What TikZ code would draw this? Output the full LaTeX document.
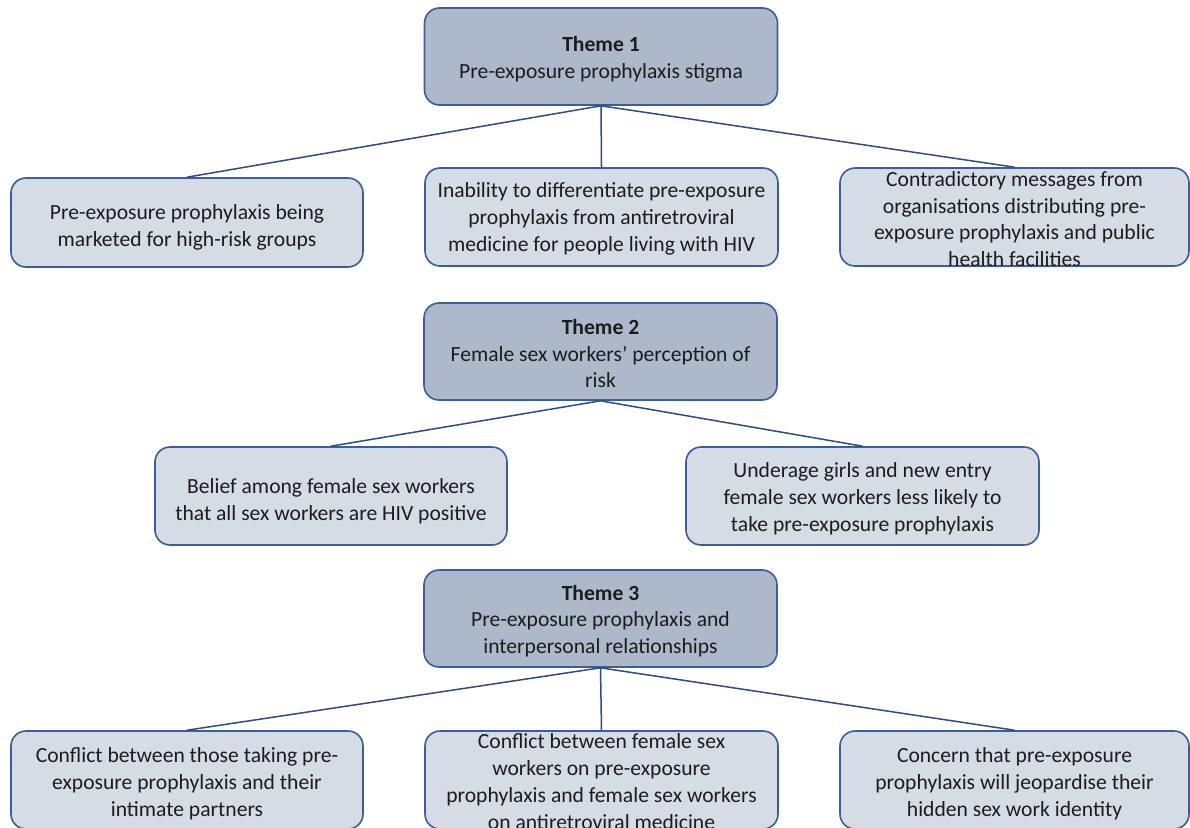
\documentclass[tikz,border=0pt]{standalone}
\usepackage{fontspec}
\setmainfont{Carlito}
\definecolor{themefill}{HTML}{ADB9CA}
\definecolor{subfill}{HTML}{D6DCE5}
\definecolor{boxline}{HTML}{3A5F98}
\definecolor{linkline}{HTML}{2F4B80}
\definecolor{txt}{HTML}{1C1C1C}
\tikzset{
  boxtext/.style={align=center, text=txt, inner sep=0pt,
    font=\fontsize{21.6}{26.8}\selectfont},
  box/.style={draw=boxline, line width=1.6pt, rounded corners=15pt, inner sep=0pt},
  themebox/.style={box, fill=themefill, minimum width=353pt, minimum height=97pt},
  subbox/.style={box, fill=subfill, minimum height=98pt},
  link/.style={draw=linkline, line width=1.5pt}
}
\begin{document}
\begin{tikzpicture}[x=1pt,y=-1pt]
\useasboundingbox (0,0) rectangle (1190,827);
\begin{scope}
\clip (0,0) rectangle (1190,827);
% Theme 1 and its sub-themes
\node[themebox, label={[boxtext,yshift=-3pt]center:{\textbf{Theme 1}\\Pre-exposure prophylaxis stigma}}] (t1) at (601,56.5) {};
\node[subbox, minimum width=352pt, minimum height=89pt,
  label={[boxtext,yshift=-4.5pt]center:{Pre-exposure prophylaxis being\\marketed for high-risk groups}}] (a1) at (187,222.5) {};
\node[subbox, minimum width=353pt,
  label={[boxtext,yshift=-2pt]center:{Inability to differentiate pre-exposure\\prophylaxis from antiretroviral\\medicine for people living with HIV}}] (a2) at (601.5,217) {};
\node[subbox, minimum width=349pt,
  label={[boxtext,yshift=-2pt]center:{Contradictory messages from\\organisations distributing pre-\\exposure prophylaxis and public\\health facilities}}] (a3) at (1014.5,217) {};
% Theme 2 and its sub-themes
\node[themebox, label={[boxtext,yshift=-2pt]center:{\textbf{Theme 2}\\Female sex workers’ perception of\\risk}}] (t2) at (600.5,351.5) {};
\node[subbox, minimum width=352pt,
  label={[boxtext,yshift=-5pt]center:{Belief among female sex workers\\that all sex workers are HIV positive}}] (b1) at (331,496) {};
\node[subbox, minimum width=353pt,
  label={[boxtext,yshift=-3pt]center:{Underage girls and new entry\\female sex workers less likely to\\take pre-exposure prophylaxis}}] (b2) at (862.5,496) {};
% Theme 3 and its sub-themes
\node[themebox, label={[boxtext,yshift=-2.5pt]center:{\textbf{Theme 3}\\Pre-exposure prophylaxis and\\interpersonal relationships}}] (t3) at (600.5,618.5) {};
\node[subbox, minimum width=352pt,
  label={[boxtext,yshift=-3.5pt]center:{Conflict between those taking pre-\\exposure prophylaxis and their\\intimate partners}}] (c1) at (187,780) {};
\node[subbox, minimum width=353pt,
  label={[boxtext,yshift=-1.5pt]center:{Conflict between female sex\\workers on pre-exposure\\prophylaxis and female sex workers\\on antiretroviral medicine}}] (c2) at (601.5,780) {};
\node[subbox, minimum width=349pt,
  label={[boxtext,yshift=-4pt]center:{Concern that pre-exposure\\prophylaxis will jeopardise their\\hidden sex work identity}}] (c3) at (1014.5,780) {};
% Connectors
\draw[link] (t1.south) -- (a1.north);
\draw[link] (t1.south) -- (a2.north);
\draw[link] (t1.south) -- (a3.north);
\draw[link] (t2.south) -- (b1.north);
\draw[link] (t2.south) -- (b2.north);
\draw[link] (t3.south) -- (c1.north);
\draw[link] (t3.south) -- (c2.north);
\draw[link] (t3.south) -- (c3.north);
\end{scope}
\end{tikzpicture}
\end{document}
